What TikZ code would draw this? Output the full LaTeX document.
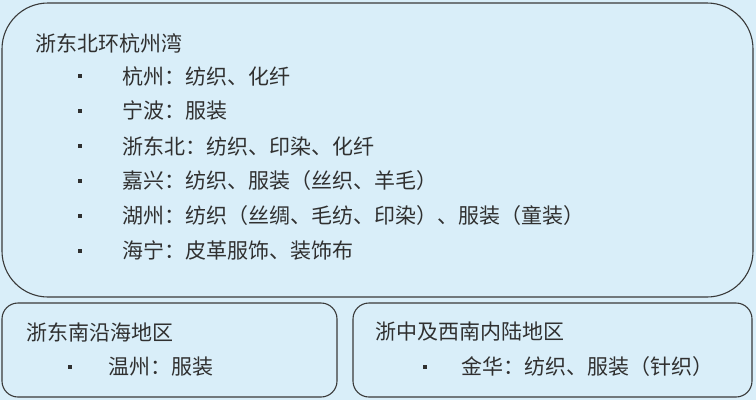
\documentclass[tikz,border=0pt]{standalone}
\usepackage{fontspec}
\setmainfont{Noto Sans CJK SC}
\usetikzlibrary{calc}

\definecolor{regionfill}{HTML}{D9EEF9}
\definecolor{regionline}{HTML}{3A3A3A}
\definecolor{regiontext}{HTML}{303030}

\begin{document}
\begin{tikzpicture}[x=1pt, y=-1pt]
    \tikzstyle{region} = [draw=regionline, fill=regionfill, line width=1.1pt]
    \tikzstyle{heading} = [anchor=west, inner sep=0pt, text=regiontext, font=\fontsize{21}{25}\selectfont]
    \tikzstyle{item} = [anchor=west, inner sep=0pt, text=regiontext, font=\fontsize{21}{25}\selectfont]
    \tikzstyle{dot} = [rectangle, fill=regiontext, minimum size=4pt, inner sep=0pt]

    % Background ----------------------------------------
    \fill[regionfill] (0, 0) rectangle (756, 400);
    \useasboundingbox (0, 0) rectangle (756, 400);

    % Regions -------------------------------------------
    \draw[region, rounded corners=46pt] (2, 3) rectangle (753, 297);
    \draw[region, rounded corners=16pt] (2, 303) rectangle (337, 397);
    \draw[region, rounded corners=16pt] (353, 303) rectangle (752, 397);

    % North-east ----------------------------------------
    \node (T) at (35, 43) [heading] {浙东北环杭州湾};
    \node (B1) at (80, 76) [dot] {};
    \node (B2) at ($(B1) + (0, 35)$) [dot] {};
    \node (B3) at ($(B2) + (0, 35)$) [dot] {};
    \node (B4) at ($(B3) + (0, 35)$) [dot] {};
    \node (B5) at ($(B4) + (0, 35)$) [dot] {};
    \node (B6) at ($(B5) + (0, 35)$) [dot] {};
    \node (T1) at ($(B1) + (42, 0)$) [item] {杭州：纺织、化纤};
    \node (T2) at ($(B2) + (42, 0)$) [item] {宁波：服装};
    \node (T3) at ($(B3) + (42, 0)$) [item] {浙东北：纺织、印染、化纤};
    \node (T4) at ($(B4) + (42, 0)$) [item] {嘉兴：纺织、服装（丝织、羊毛）};
    \node (T5) at ($(B5) + (42, 0)$) [item] {湖州：纺织（丝绸、毛纺、印染）、服装（童装）};
    \node (T6) at ($(B6) + (42, 0)$) [item] {海宁：皮革服饰、装饰布};
    % ---------------------------------------------------

    % South-east ----------------------------------------
    \node (L) at (26, 332) [heading] {浙东南沿海地区};
    \node (LB1) at (70, 367) [dot] {};
    \node (L1) at ($(LB1) + (38, 0)$) [item] {温州：服装};

    % Centre and south-west -----------------------------
    \node (R) at (375, 332) [heading] {浙中及西南内陆地区};
    \node (RB1) at (425, 367) [dot] {};
    \node (R1) at ($(RB1) + (36, 0)$) [item] {金华：纺织、服装（针织）};
\end{tikzpicture}
\end{document}
